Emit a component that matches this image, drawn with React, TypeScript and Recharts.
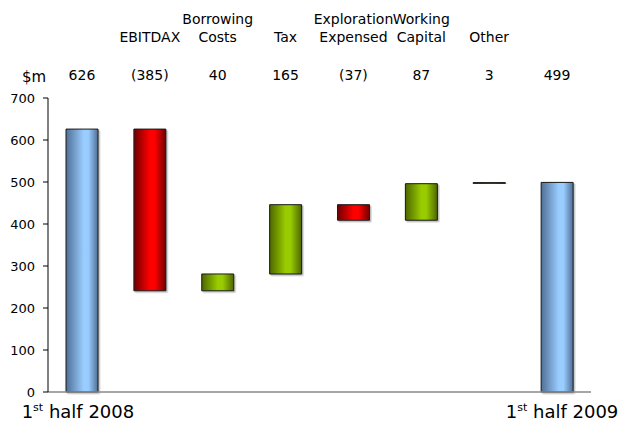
import { BarChart, Bar, XAxis, YAxis, Cell, Label } from "recharts";

// Bridge from 1st half 2008 to 1st half 2009, $m
const keys = ["h1-2008", "ebitdax", "borrowing", "tax", "exploration", "working", "other", "h1-2009"];
const topNames = [[], ["EBITDAX"], ["Borrowing", "Costs"], ["Tax"], ["Exploration", "Expensed"], ["Working", "Capital"], ["Other"], []];
const bottomNames = ["half 2008", "", "", "", "", "", "", "half 2009"];
const amounts = [626, -385, 40, 165, -37, 87, 3, 499];
const isTotal = [true, false, false, false, false, false, false, true];
const yTicks = [0, 100, 200, 300, 400, 500, 600, 700];

const FONT = "'DejaVu Sans', Verdana, sans-serif";

// running total turns each step into a floating [low, high] range
let running = 0;
const chartData = keys.map((key, i) => {
  const v = amounts[i];
  let range: [number, number];
  if (isTotal[i]) {
    range = [0, v];
    running = v;
  } else {
    const next = running + v;
    range = [Math.min(running, next), Math.max(running, next)];
    running = next;
  }
  return {
    key,
    range,
    value: v,
    top: topNames[i],
    bottom: bottomNames[i],
    kind: isTotal[i] ? "total" : v < 0 ? "down" : "up",
  };
});

const fmt = (v: number) => (v < 0 ? `(${Math.abs(v)})` : `${v}`);

function TopTick(props: any) {
  const { x, y, index } = props;
  const d = chartData[index];
  const lines: string[] = d.top;
  return (
    <g fontFamily={FONT} fontSize={14} fill="#000">
      {lines.map((line, i) => (
        <text key={i} x={x} y={y - 56 - (lines.length - 1 - i) * 18} textAnchor="middle" fill="#000">
          {line}
        </text>
      ))}
      <text x={x} y={y - 18} textAnchor="middle" fill="#000">
        {fmt(d.value)}
      </text>
    </g>
  );
}

function BottomTick(props: any) {
  const { x, y, index } = props;
  const d = chartData[index];
  if (!d.bottom) return null;
  // end labels lean outward a little from their bars
  const shift = index === 0 ? -4 : 5;
  return (
    <text x={x + shift} y={y + 26} textAnchor="middle" fontFamily={FONT} fontSize={18} fill="#000">
      1<tspan fontSize={11} dy={-7}>st</tspan>
      <tspan dy={7}> {d.bottom}</tspan>
    </text>
  );
}

const fills: Record<string, string> = {
  total: "url(#gradTotal)",
  down: "url(#gradDown)",
  up: "url(#gradUp)",
};

export default function App() {
  return (
    <div style={{ position: "absolute", left: 0, top: 0, background: "#fff" }}>
      <BarChart
        width={619}
        height={426}
        data={chartData}
        margin={{ top: 0, right: 28, left: 0, bottom: 0 }}
        barCategoryGap={0}
      >
        <defs>
          <linearGradient id="gradTotal" x1="0" y1="0" x2="1" y2="0">
            <stop offset="0" stopColor="#4f6f95" />
            <stop offset="0.55" stopColor="#99ccff" />
            <stop offset="0.7" stopColor="#99ccff" />
            <stop offset="1" stopColor="#4f6f95" />
          </linearGradient>
          <linearGradient id="gradDown" x1="0" y1="0" x2="1" y2="0">
            <stop offset="0" stopColor="#6e0000" />
            <stop offset="0.5" stopColor="#ff0000" />
            <stop offset="0.65" stopColor="#ff0000" />
            <stop offset="1" stopColor="#6e0000" />
          </linearGradient>
          <linearGradient id="gradUp" x1="0" y1="0" x2="1" y2="0">
            <stop offset="0" stopColor="#4d6600" />
            <stop offset="0.5" stopColor="#99cc00" />
            <stop offset="0.65" stopColor="#99cc00" />
            <stop offset="1" stopColor="#4d6600" />
          </linearGradient>
          <filter id="barShadow" x="-20%" y="-20%" width="140%" height="140%">
            <feDropShadow dx="1.5" dy="1.5" stdDeviation="0.6" floodColor="#000" floodOpacity="0.25" />
          </filter>
        </defs>
        <XAxis
          xAxisId="top"
          dataKey="key"
          orientation="top"
          height={98}
          axisLine={false}
          tickLine={false}
          tickSize={0}
          tickMargin={0}
          interval={0}
          tick={<TopTick />}
        />
        <XAxis
          dataKey="key"
          height={34}
          axisLine={{ stroke: "#888", strokeWidth: 1.5 }}
          tickLine={false}
          tickSize={0}
          tickMargin={0}
          interval={0}
          tick={<BottomTick />}
        />
        <YAxis
          domain={[0, 700]}
          ticks={yTicks}
          width={48}
          axisLine={{ stroke: "#000" }}
          tickLine={{ stroke: "#000" }}
          tickSize={5}
          tickMargin={8}
          tick={{ fontFamily: FONT, fontSize: 13, fill: "#000" }}
        >
          <Label
            value="$m"
            position="top"
            offset={16}
            dx={10}
            style={{ fontFamily: FONT, fontSize: 15, fill: "#000" }}
          />
        </YAxis>
        <Bar
          dataKey="range"
          barSize={32}
          xAxisId={0}
          stroke="#1a1a1a"
          strokeWidth={1}
          filter="url(#barShadow)"
          isAnimationActive={false}
        >
          {chartData.map((d) => (
            <Cell key={d.key} fill={fills[d.kind]} />
          ))}
        </Bar>
      </BarChart>
    </div>
  );
}
